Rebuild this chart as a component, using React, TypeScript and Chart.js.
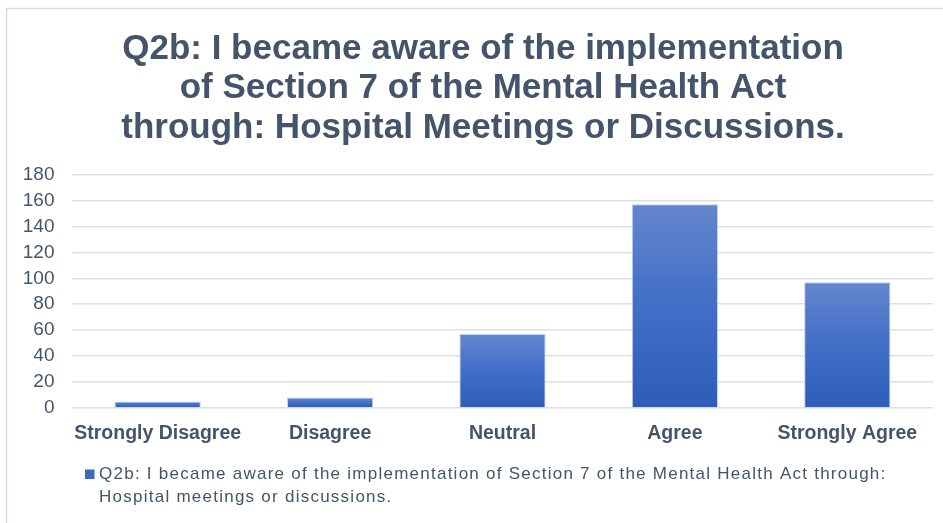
import React, { useEffect, useRef } from "react";
import { Chart, registerables } from "chart.js";

Chart.register(...registerables);

const categories = ["Strongly Disagree", "Disagree", "Neutral", "Agree", "Strongly Agree"];
const responses = [5, 8, 57, 157, 97];
const yTickValues = [0, 20, 40, 60, 80, 100, 120, 140, 160, 180];
const titleLines = [
  "Q2b: I became aware of the implementation",
  "of Section 7 of the Mental Health Act",
  "through: Hospital Meetings or Discussions.",
];
const seriesLabel =
  "Q2b: I became aware of the implementation of Section 7 of the Mental Health Act through: Hospital meetings or discussions.";

const TEXT = "#44546A";
const FONT = "'Liberation Sans', Arial, sans-serif";

const framePlugin = {
  id: "frame",
  beforeDraw(chart: any) {
    const ctx = chart.ctx;
    ctx.save();
    ctx.fillStyle = "#ffffff";
    ctx.fillRect(0, 0, chart.width, chart.height);
    ctx.strokeStyle = "#D9DDE3";
    ctx.lineWidth = 1.5;
    ctx.beginPath();
    ctx.moveTo(6.5, chart.height);
    ctx.lineTo(6.5, 8.5);
    ctx.lineTo(chart.width, 8.5);
    ctx.stroke();
    ctx.restore();
  },
};

const titlePlugin = {
  id: "customTitle",
  afterDraw(chart: any) {
    const ctx = chart.ctx;
    ctx.save();
    ctx.fillStyle = TEXT;
    ctx.font = `bold 35px ${FONT}`;
    ctx.textAlign = "center";
    ctx.textBaseline = "alphabetic";
    const baselines = [58.5, 98, 137.5];
    titleLines.forEach((line, i) => ctx.fillText(line, 483, baselines[i]));
    ctx.restore();
  },
};

const legendPlugin = {
  id: "customLegend",
  afterDraw(chart: any) {
    const ctx = chart.ctx;
    const ds = chart.data.datasets[0];
    ctx.save();
    ctx.fillStyle = "#3D68C2";
    ctx.fillRect(85, 469.5, 9.5, 9.5);
    ctx.fillStyle = TEXT;
    ctx.font = `17px ${FONT}`;
    try {
      (ctx as any).letterSpacing = "1.25px";
    } catch (e) {}
    ctx.textAlign = "left";
    ctx.textBaseline = "alphabetic";
    const words = String(ds.label).split(" ");
    const lines: string[] = [];
    let cur = "";
    const maxW = 810;
    for (const w of words) {
      const test = cur ? cur + " " + w : w;
      if (ctx.measureText(test).width > maxW && cur) {
        lines.push(cur);
        cur = w;
      } else {
        cur = test;
      }
    }
    if (cur) lines.push(cur);
    lines.forEach((l, i) => ctx.fillText(l, 99, 479 + i * 22.7));
    ctx.restore();
  },
};

function barGradient(context: any) {
  const chart = context.chart;
  const { chartArea, scales } = chart;
  if (!chartArea || !scales || !scales.y || context.raw === undefined) return "#3A67C0";
  const top = scales.y.getPixelForValue(context.raw);
  const base = scales.y.getPixelForValue(0);
  if (!isFinite(top) || !isFinite(base) || Math.abs(base - top) < 0.5) return "#3A67C0";
  const g = chart.ctx.createLinearGradient(0, top, 0, base);
  g.addColorStop(0, "#6586CD");
  g.addColorStop(0.45, "#4371C8");
  g.addColorStop(1, "#2D5DB8");
  return g;
}

export default function App() {
  const ref = useRef<HTMLCanvasElement | null>(null);

  useEffect(() => {
    if (!ref.current) return;
    const chart = new Chart(ref.current, {
      type: "bar",
      data: {
        labels: categories,
        datasets: [
          {
            label: seriesLabel,
            data: responses,
            backgroundColor: barGradient,
            borderColor: "rgba(190,206,238,0.95)",
            borderWidth: 1,
            categoryPercentage: 1,
            barPercentage: 0.5,
          },
        ],
      },
      options: {
        animation: false,
        responsive: false,
        maintainAspectRatio: false,
        devicePixelRatio: 1,
        layout: { padding: { top: 174.5, right: 9.5, bottom: 55, left: 0 } },
        plugins: {
          legend: { display: false },
          title: { display: false },
          tooltip: { enabled: false },
        },
        scales: {
          x: {
            grid: { display: false, drawTicks: false },
            border: { display: false },
            ticks: {
              color: TEXT,
              font: { family: FONT, size: 19.5, weight: "bold" },
              padding: 14,
              maxRotation: 0,
              autoSkip: false,
            },
            afterFit(scale: any) {
              scale.height = 60;
            },
          },
          y: {
            min: 0,
            max: 180,
            afterBuildTicks(scale: any) {
              scale.ticks = yTickValues.map((v) => ({ value: v }));
            },
            grid: { color: "#DCE0E7", lineWidth: 1.5, drawTicks: false },
            border: { display: false },
            ticks: {
              color: TEXT,
              font: { family: FONT, size: 19 },
              padding: 17,
            },
            afterFit(scale: any) {
              scale.width = 71.5;
            },
          },
        },
      },
      plugins: [framePlugin, titlePlugin, legendPlugin],
    } as any);
    return () => chart.destroy();
  }, []);

  return (
    <div style={{ position: "fixed", left: 0, top: 0, width: 943, height: 523, background: "#fff" }}>
      <canvas ref={ref} width={943} height={523} style={{ display: "block", width: 943, height: 523 }} />
    </div>
  );
}
